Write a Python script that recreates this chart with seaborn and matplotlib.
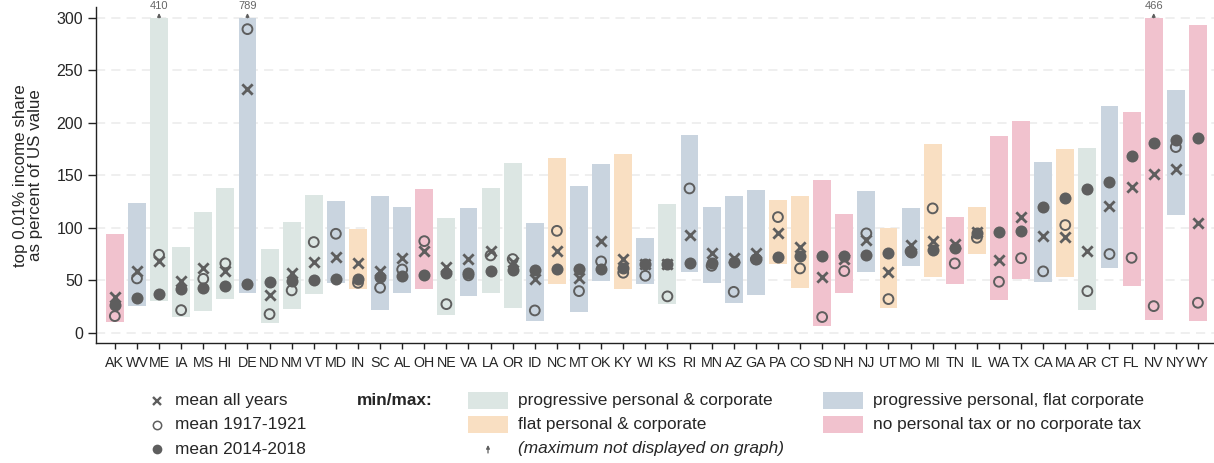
import numpy as np
import pandas as pd
import matplotlib
matplotlib.use("Agg")
import matplotlib.pyplot as plt
import seaborn as sns
from matplotlib.patches import Rectangle, FancyArrowPatch
from matplotlib.lines import Line2D

states = ["AK","WV","ME","IA","MS","HI","DE","ND","NM","VT","MD","IN","SC","AL","OH",
          "NE","VA","LA","OR","ID","NC","MT","OK","KY","WI","KS","RI","MN","AZ","GA",
          "PA","CO","SD","NH","NJ","UT","MO","MI","TN","IL","WA","TX","CA","MA","AR",
          "CT","FL","NV","NY","WY"]
# G = progressive personal & corporate, F = flat personal & corporate,
# B = progressive personal, flat corporate, P = no personal or no corporate tax
tax_type = ["P","B","G","G","G","G","B","G","G","G","B","F","B","B","P",
            "G","B","G","G","B","F","B","B","F","B","G","B","B","B","B",
            "F","F","P","P","B","F","B","F","P","F","P","P","B","F","G",
            "B","P","P","B","P"]
min_val = [10.2,25.7,30.2,15.2,20.7,32.4,38.1,9.5,22.9,36.9,47.3,41.9,21.6,37.8,41.6,
           16.9,35.0,37.8,23.5,11.1,46.4,19.7,49.2,41.6,46.4,27.3,57.8,47.3,28.3,35.9,
           65.4,42.6,6.4,37.8,57.8,23.5,63.5,53.0,46.4,75.0,31.1,51.1,48.3,53.0,21.6,
           61.6,44.5,12.0,112.1,11.1]
max_val = [93.7,123.5,410,81.6,115.0,137.8,789,79.7,105.4,131.1,125.4,98.8,130.2,119.7,136.9,
           109.2,118.8,137.8,161.6,104.5,166.4,139.7,160.7,170.2,90.2,122.6,188.3,119.7,130.2,135.9,
           126.4,130.2,145.4,113.1,135.0,99.7,118.8,179.7,110.2,119.7,187.3,201.6,162.6,174.9,175.9,
           215.9,210.2,466,231.1,293.0]
mean_all = [34.3,58.8,68.3,49.2,61.3,58.8,232.1,36.2,57.2,67.3,72.4,66.1,59.0,71.7,77.5,
            62.9,69.9,78.1,67.3,51.4,78.1,52.4,87.6,69.9,65.1,65.4,92.8,75.6,71.1,75.6,
            94.7,81.3,53.0,70.5,88.3,57.8,83.5,87.6,84.2,95.6,69.2,109.9,92.1,91.4,77.5,
            120.4,138.5,151.1,155.6,104.2]
mean_1917_1921 = [15.9,51.8,74.3,21.6,51.4,66.1,289.2,17.8,40.4,86.4,94.3,47.6,42.9,60.3,87.3,
                  27.3,54.7,73.7,70.2,21.3,97.1,39.7,68.0,57.2,54.3,34.7,137.5,63.8,39.0,70.0,
                  110.2,61.3,15.0,58.8,94.7,32.1,77.5,118.5,66.1,90.5,48.6,71.1,58.5,102.6,39.7,
                  75.0,71.4,25.4,176.9,28.6]
mean_2014_2018 = [26.1,32.8,36.9,41.3,42.6,44.5,46.7,48.0,49.2,49.9,50.8,51.4,52.7,54.0,55.0,
                  57.2,57.2,58.8,60.0,59.7,60.3,60.3,61.0,61.9,65.1,65.4,66.7,66.7,67.3,70.5,
                  71.8,72.8,72.8,73.3,74.0,75.6,76.6,78.8,80.7,95.0,96.2,96.6,119.7,128.3,137.1,
                  143.8,168.0,180.4,183.8,185.7]

Y_CAP = 300
yticks = [0, 50, 100, 150, 200, 250, 300]

type_colors = {"G": "#dce6e3", "F": "#f9dfc2", "B": "#c9d4df", "P": "#f1c2ce"}
type_labels = {"G": "progressive personal & corporate",
               "F": "flat personal & corporate",
               "B": "progressive personal, flat corporate",
               "P": "no personal tax or no corporate tax"}
mk = "#5e5e5e"

df = pd.DataFrame({"state": states, "type": tax_type, "lo": min_val, "hi": max_val,
                   "all": mean_all, "early": mean_1917_1921, "late": mean_2014_2018})
df["pos"] = np.arange(len(df))
df["hi_c"] = df["hi"].clip(upper=Y_CAP)

sns.set_style("white")
plt.rcParams["font.family"] = ["Liberation Sans", "DejaVu Sans"]

W, H = 1214, 463
fig = plt.figure(figsize=(W / 100, H / 100), dpi=100)
ax = fig.add_axes([95.7 / W, 1 - 343.3 / H, 1 - 95.7 / W, (343.3 - 7.3) / H])

ax.bar(df["pos"], df["hi_c"] - df["lo"], bottom=df["lo"], width=0.81,
       color=[type_colors[t] for t in df["type"]], linewidth=0, zorder=1)

sns.scatterplot(x="pos", y="all", data=df, ax=ax, marker="x", color=mk, s=55,
                linewidth=2.0, zorder=3, legend=False)
sns.scatterplot(x="pos", y="early", data=df, ax=ax, marker="o", facecolor="none",
                edgecolor=mk, s=50, linewidth=1.4, zorder=4, legend=False)
sns.scatterplot(x="pos", y="late", data=df, ax=ax, marker="o", color=mk, s=75,
                linewidth=0, zorder=5, legend=False)

# clipped maxima
for _, r in df[df["hi"] > Y_CAP].iterrows():
    ax.annotate("", xy=(r["pos"], Y_CAP + 4.5), xytext=(r["pos"], Y_CAP),
                arrowprops=dict(arrowstyle="-|>", color=mk, lw=0.9, mutation_scale=5,
                                shrinkA=0, shrinkB=0), zorder=6, annotation_clip=False)
    ax.text(r["pos"], Y_CAP + 6.5, f"{int(r['hi'])}", ha="center", va="bottom",
            fontsize=8, color="#666666", clip_on=False)

ax.set_xlim(-0.866, (W - 115) / 22.1)
ax.set_ylim(-10, 310)
ax.set_xticks(df["pos"])
ax.set_xticklabels(df["state"], fontsize=10.3)
ax.set_yticks(yticks)
ax.set_yticklabels([str(v) for v in yticks], fontsize=11.5)
ax.set_xlabel("")
ax.set_ylabel("top 0.01% income share\nas percent of US value", fontsize=12.2,
              linespacing=1.0, labelpad=10)
ax.tick_params(axis="both", direction="out", width=1, color="#222222",
               bottom=True, left=True)
ax.tick_params(axis="x", length=4, pad=5)
ax.tick_params(axis="y", length=6, pad=3)
ax.yaxis.grid(True, linestyle=(0, (6, 4)), color="#ebebeb", linewidth=1.1)
ax.set_axisbelow(True)
for s in ["top", "right"]:
    ax.spines[s].set_visible(False)
for s in ["left", "bottom"]:
    ax.spines[s].set_color("#222222")
    ax.spines[s].set_linewidth(1.0)

# ---- legend (figure coordinates) ----
def fx(x):
    return x / W

def fy(y):
    return 1 - y / H

LFS = 12.4
rows = [400.5, 424.5, 449]
fig.add_artist(Line2D([fx(157)], [fy(rows[0])], marker="x", color=mk, markersize=6,
                      markeredgewidth=1.7, linestyle="none", transform=fig.transFigure))
fig.add_artist(Line2D([fx(157)], [fy(rows[1])], marker="o", markerfacecolor="none",
                      markeredgecolor=mk, markersize=6, markeredgewidth=1.1,
                      linestyle="none", transform=fig.transFigure))
fig.add_artist(Line2D([fx(157)], [fy(rows[2])], marker="o", color=mk, markersize=7,
                      markeredgewidth=0, linestyle="none", transform=fig.transFigure))
for txt, r in zip(["mean all years", "mean 1917-1921", "mean 2014-2018"], rows):
    fig.text(fx(175), fy(r), txt, fontsize=LFS, va="center", ha="left")

fig.text(fx(357), fy(rows[0]), "min/max:", fontsize=LFS, fontweight="bold",
         va="center", ha="left")

patch_spots = [("G", 468, rows[0]), ("F", 468, rows[1]), ("B", 823, rows[0]), ("P", 823, rows[1])]
for t, x0, r in patch_spots:
    fig.add_artist(Rectangle((fx(x0), fy(r + 8.5)), 40 / W, 17 / H, transform=fig.transFigure,
                             facecolor=type_colors[t], edgecolor="none"))
    fig.text(fx(x0 + 50), fy(r), type_labels[t], fontsize=LFS, va="center", ha="left")

fig.add_artist(FancyArrowPatch((fx(488), fy(453)), (fx(488), fy(445)), transform=fig.transFigure,
                               arrowstyle="-|>", mutation_scale=5, color=mk, lw=0.9,
                               shrinkA=0, shrinkB=0))
fig.text(fx(518), fy(rows[2]), "(maximum not displayed on graph)", fontsize=LFS,
         fontstyle="italic", va="center", ha="left")

fig.savefig("out.png", dpi=100)
